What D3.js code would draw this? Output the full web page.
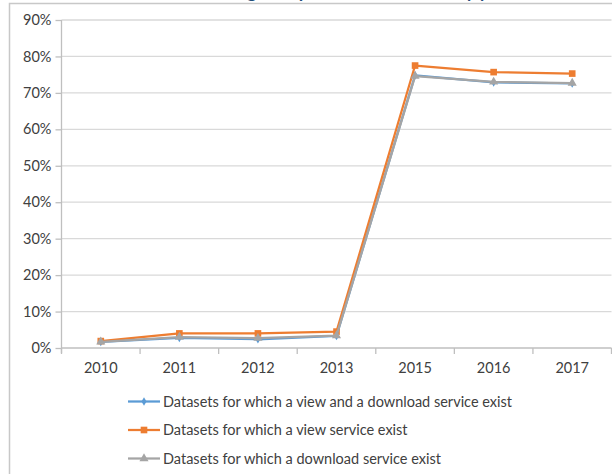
<!DOCTYPE html>
<html>
<head>
<meta charset="utf-8">
<script src="https://cdn.jsdelivr.net/npm/d3@7"></script>
<style>
  html, body { margin: 0; padding: 0; background: #fff; }
  svg { display: block; }
  text { font-family: Lato, "Open Sans", sans-serif; fill: #404040; }
</style>
</head>
<body>
<svg id="chart" width="612" height="474"></svg>
<script>
// Years shown on the category axis
const years = ["2010", "2011", "2012", "2013", "2015", "2016", "2017"];

// Share of datasets (%) per year for each service type
const viewAndDownload = [1.7, 2.8, 2.4, 3.3, 74.8, 72.9, 72.6];
const viewOnly = [1.9, 4.0, 4.0, 4.5, 77.5, 75.7, 75.3];
const downloadOnly = [1.7, 3.0, 2.7, 3.4, 74.6, 73.0, 72.7];

const seriesNames = [
  "Datasets for which a view and a download service exist",
  "Datasets for which a view service exist",
  "Datasets for which a download service exist"
];

const yTicks = [0, 10, 20, 30, 40, 50, 60, 70, 80, 90];
const chartTitle = "Coverage of spatial data services by year";

const series = [
  { name: seriesNames[0], values: viewAndDownload, color: "#5B9BD5", symbol: d3.symbolDiamond, size: 22 },
  { name: seriesNames[1], values: viewOnly, color: "#ED7D31", symbol: d3.symbolSquare, size: 44 },
  { name: seriesNames[2], values: downloadOnly, color: "#A5A5A5", symbol: d3.symbolTriangle, size: 36 }
];

const svg = d3.select("#chart");

// chart frame
svg.append("path")
  .attr("d", "M9.5,474 V3.5 H612")
  .attr("fill", "none")
  .attr("stroke", "#c8c8c8")
  .attr("stroke-width", 1.5);

// title, running off the top edge
svg.append("text")
  .attr("x", 352)
  .attr("y", -2)
  .attr("text-anchor", "middle")
  .style("font-weight", "bold")
  .style("font-size", "18px")
  .style("fill", "#1F4E79")
  .text(chartTitle);

const plot = { left: 61.5, right: 611.5, top: 20, bottom: 348 };

const x = d3.scaleBand().domain(years).range([plot.left, plot.right]);
const y = d3.scaleLinear().domain([0, 90]).range([plot.bottom, plot.top]);

// horizontal gridlines
svg.append("g")
  .selectAll("line")
  .data(yTicks.filter(t => t > 0))
  .join("line")
  .attr("x1", plot.left)
  .attr("x2", plot.right)
  .attr("y1", d => y(d))
  .attr("y2", d => y(d))
  .attr("stroke", "#d9d9d9")
  .attr("stroke-width", 1.3);

// y axis
const yAxis = svg.append("g")
  .attr("transform", `translate(${plot.left},0)`)
  .call(d3.axisLeft(y).tickValues(yTicks).tickFormat(d => d + "%").tickSize(6).tickPadding(4));
yAxis.select(".domain").attr("stroke", "#bfbfbf").attr("stroke-width", 1.3)
  .attr("d", `M0,${plot.top}V${plot.bottom + 5}`);
yAxis.selectAll(".tick line").attr("stroke", "#bfbfbf").attr("stroke-width", 1.3);
yAxis.selectAll(".tick text")
  .style("font-size", "14.5px")
  .style("font-family", "Lato, sans-serif")
  .attr("fill", "#404040");

// x axis with ticks at the category boundaries
const xAxis = svg.append("g")
  .attr("transform", `translate(0,${plot.bottom})`);
xAxis.append("line")
  .attr("x1", plot.left).attr("x2", plot.right)
  .attr("y1", 0).attr("y2", 0)
  .attr("stroke", "#bfbfbf").attr("stroke-width", 1.3);
const bounds = years.map(d => x(d)).concat([x(years[years.length - 1]) + x.bandwidth()]);
xAxis.selectAll("line.b")
  .data(bounds)
  .join("line")
  .attr("class", "b")
  .attr("x1", d => d).attr("x2", d => d)
  .attr("y1", 0).attr("y2", 6)
  .attr("stroke", "#bfbfbf").attr("stroke-width", 1.3);
xAxis.selectAll("text")
  .data(years)
  .join("text")
  .attr("x", d => x(d) + x.bandwidth() / 2)
  .attr("y", 25)
  .attr("text-anchor", "middle")
  .style("font-size", "14.5px")
  .text(d => d);

// series lines and markers
const line = d3.line()
  .x((d, i) => x(years[i]) + x.bandwidth() / 2)
  .y(d => y(d));

series.forEach(s => {
  const g = svg.append("g");
  g.append("path")
    .datum(s.values)
    .attr("d", line)
    .attr("fill", "none")
    .attr("stroke", s.color)
    .attr("stroke-width", 2.25)
    .attr("stroke-linejoin", "round");
  g.selectAll("path.m")
    .data(s.values)
    .join("path")
    .attr("class", "m")
    .attr("transform", (d, i) => `translate(${x(years[i]) + x.bandwidth() / 2},${y(d)})`)
    .attr("d", d3.symbol().type(s.symbol).size(s.size))
    .attr("fill", s.color);
});

// legend
const legend = svg.append("g");
const legendRows = [401.5, 430, 458.5];
series.forEach((s, i) => {
  const row = legend.append("g").attr("transform", `translate(0,${legendRows[i]})`);
  row.append("line")
    .attr("x1", 128).attr("x2", 160)
    .attr("y1", 0).attr("y2", 0)
    .attr("stroke", s.color)
    .attr("stroke-width", 2.25);
  row.append("path")
    .attr("transform", "translate(144,0)")
    .attr("d", d3.symbol().type(s.symbol).size(s.size))
    .attr("fill", s.color);
  row.append("text")
    .attr("x", 163)
    .attr("y", 0)
    .attr("dy", "0.35em")
    .style("font-size", "14.5px")
    .text(s.name);
});
</script>
</body>
</html>
